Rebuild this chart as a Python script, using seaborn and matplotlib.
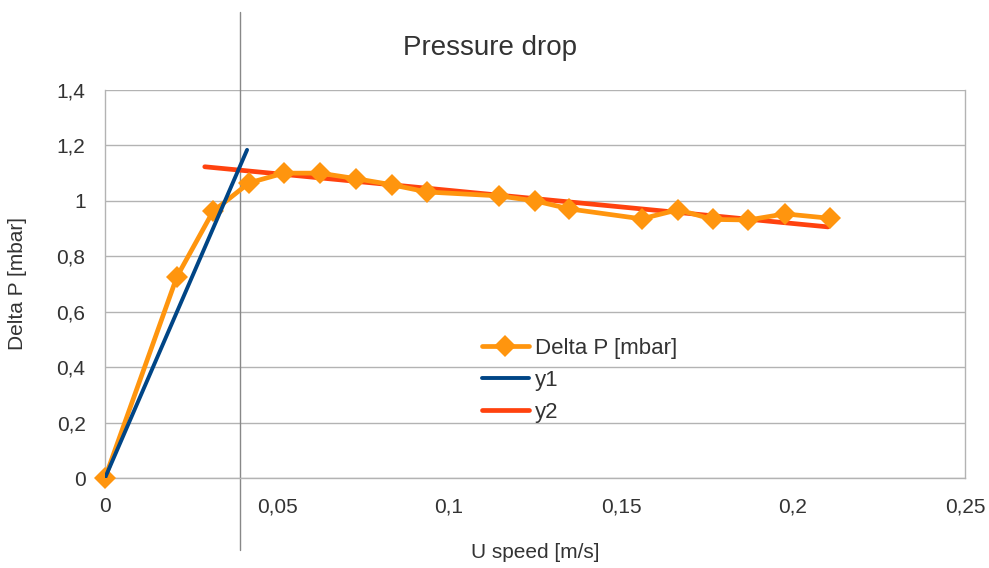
import numpy as np
import pandas as pd
import matplotlib
matplotlib.use("Agg")
import matplotlib.pyplot as plt
import seaborn as sns

# ==== data ====
u_speed = [0.0, 0.0209, 0.0314, 0.0419, 0.052, 0.0625, 0.073, 0.0834, 0.0936,
           0.1145, 0.125, 0.135, 0.156, 0.1666, 0.1767, 0.187, 0.1977, 0.2108]
delta_p = [0.0, 0.726, 0.962, 1.065, 1.10, 1.10, 1.08, 1.058, 1.032,
           1.018, 1.0, 0.971, 0.935, 0.968, 0.933, 0.931, 0.953, 0.937]

y1_x = [0.0, 0.0413]
y1_y = [0.0, 1.184]
y2_x = [0.029, 0.2102]
y2_y = [1.123, 0.906]

threshold_u = 0.0392

x_ticks = [0, 0.05, 0.1, 0.15, 0.2, 0.25]
x_labels = ["0", "0,05", "0,1", "0,15", "0,2", "0,25"]
y_ticks = [0, 0.2, 0.4, 0.6, 0.8, 1.0, 1.2, 1.4]
y_labels = ["0", "0,2", "0,4", "0,6", "0,8", "1", "1,2", "1,4"]

ORANGE = "#ff950e"
BLUE = "#004586"
RED = "#ff420e"
GRID = "#b3b3b3"
TXT = "#333333"

sns.set_style("white")
plt.rcParams["font.family"] = ["Liberation Sans", "DejaVu Sans"]

df = pd.DataFrame({"u": u_speed, "dp": delta_p})
df_y1 = pd.DataFrame({"u": y1_x, "dp": y1_y})
df_y2 = pd.DataFrame({"u": y2_x, "dp": y2_y})

fig = plt.figure(figsize=(9.89, 5.68), dpi=100)
ax = fig.add_axes([105 / 989, 1 - 478 / 568, 860 / 989, 388 / 568])

sns.lineplot(data=df_y2, x="u", y="dp", ax=ax, color=RED, lw=3.4,
             label="y2", zorder=3)
sns.lineplot(data=df, x="u", y="dp", ax=ax, color=ORANGE, lw=3.4,
             marker="D", markersize=11.5, markeredgewidth=0,
             label="Delta P [mbar]", zorder=4, clip_on=False)
sns.lineplot(data=df_y1, x="u", y="dp", ax=ax, color=BLUE, lw=2.8,
             label="y1", zorder=5)

# vertical marker line running past the plot area
ax.axvline(threshold_u, ymin=-0.186, ymax=1.201, color="#888888", lw=1,
           clip_on=False, zorder=2)

ax.set_xlim(0, 0.25)
ax.set_ylim(0, 1.4)
ax.set_xticks(x_ticks)
ax.set_xticklabels(x_labels)
ax.set_yticks(y_ticks)
ax.set_yticklabels(y_labels)
ax.grid(axis="y", color=GRID, lw=1)
ax.grid(axis="x", visible=False)
for s in ["left", "bottom", "right"]:
    ax.spines[s].set_color(GRID)
    ax.spines[s].set_linewidth(1)
ax.spines["top"].set_visible(False)
ax.tick_params(axis="both", colors=GRID, labelcolor=TXT, labelsize=15,
               length=6, width=1, direction="out")
ax.tick_params(axis="x", pad=8)
ax.tick_params(axis="y", pad=8)

ax.set_xlabel("U speed [m/s]", fontsize=15, color=TXT, labelpad=19)
ax.set_ylabel("Delta P [mbar]", fontsize=15, color=TXT, labelpad=21)
fig.text(490 / 989, 1 - 48 / 568, "Pressure drop", fontsize=20, color=TXT,
         ha="center", va="center")

handles, labels = ax.get_legend_handles_labels()
order = [labels.index("Delta P [mbar]"), labels.index("y1"), labels.index("y2")]
leg = ax.legend([handles[i] for i in order], [labels[i] for i in order],
                loc="upper left", bbox_to_anchor=(0.428, 0.385), frameon=False,
                fontsize=16, handlelength=2.1, handletextpad=0.3,
                labelspacing=0.5, borderaxespad=0)
for t in leg.get_texts():
    t.set_color(TXT)

fig.savefig("out.png", dpi=100, facecolor="white")
